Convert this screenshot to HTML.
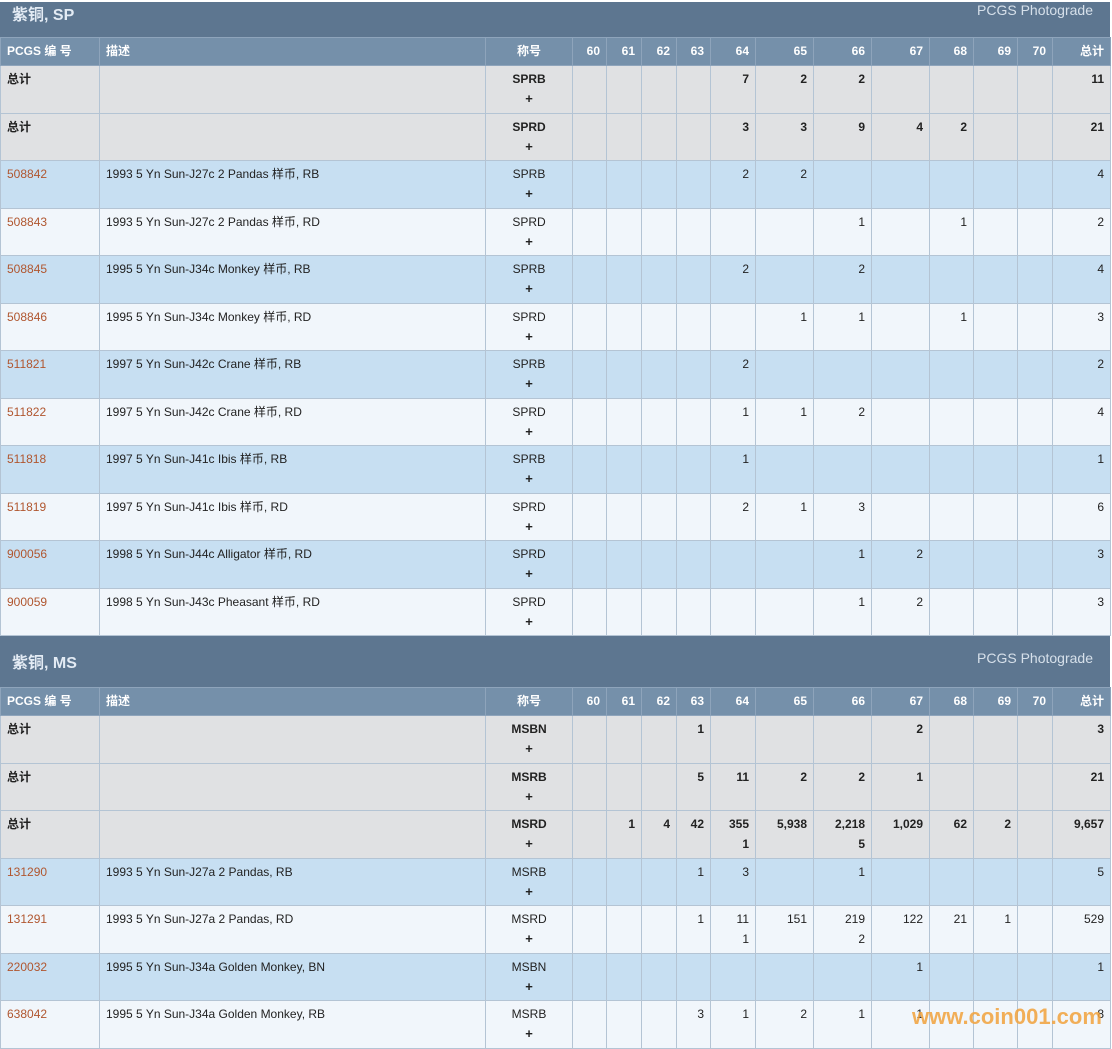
<!DOCTYPE html><html><head><meta charset="utf-8"><style>
body{margin:0;background:#fff;font-family:"Liberation Sans","Noto Sans CJK SC",sans-serif;font-size:12px;color:#222;width:1112px;height:1046px;overflow:hidden;position:relative}
.t{background:#5d7690;color:#e8eef5;position:relative;width:1110px}
.t b{position:absolute;left:12px;font-size:16px;color:#e3ebf4}
.t span{position:absolute;right:17px;font-size:14px;color:#d6e0ea}
table{border-collapse:collapse;table-layout:fixed;width:1111px}
td{border:1px solid #b4c4d4;vertical-align:top;padding:3px 6px 0 6px;line-height:20px;text-align:right;overflow:hidden;white-space:nowrap}
td:nth-child(1),td:nth-child(2){text-align:left}
td:nth-child(3){text-align:center}
td i{font-style:normal;font-weight:bold;font-size:13px}
tr{height:47.5px}
tr.h{height:28px;background:#7590aa;color:#fff;font-weight:bold}
tr.h td{padding-top:3px;line-height:20px;border-color:#8ea4bb}
tr.s{background:#e0e1e3;font-weight:bold}
tr.b{background:#c7dff2}
tr.w{background:#f1f6fb}
td a{color:#b0562f;text-decoration:none}
.wm{position:absolute;left:912px;top:1004px;font-size:22px;font-weight:bold;color:#f2a23c;opacity:.85}
</style></head><body>
<div style="height:2px"></div>
<div class="t" style="height:35px"><b style="top:-1px">紫铜, SP</b><span style="top:0px">PCGS Photograde</span></div>
<table><colgroup><col style="width:99px"><col style="width:386px"><col style="width:87px"><col style="width:34px"><col style="width:35px"><col style="width:35px"><col style="width:34px"><col style="width:45px"><col style="width:58px"><col style="width:58px"><col style="width:58px"><col style="width:44px"><col style="width:44px"><col style="width:35px"><col style="width:58px"></colgroup>
<tr class="h"><td>PCGS 编 号</td><td>描述</td><td>称号</td><td>60</td><td>61</td><td>62</td><td>63</td><td>64</td><td>65</td><td>66</td><td>67</td><td>68</td><td>69</td><td>70</td><td>总计</td></tr>
<tr class="s"><td>总计</td><td></td><td>SPRB<br><i>+</i></td><td></td><td></td><td></td><td></td><td>7</td><td>2</td><td>2</td><td></td><td></td><td></td><td></td><td>11</td></tr>
<tr class="s"><td>总计</td><td></td><td>SPRD<br><i>+</i></td><td></td><td></td><td></td><td></td><td>3</td><td>3</td><td>9</td><td>4</td><td>2</td><td></td><td></td><td>21</td></tr>
<tr class="b"><td><a>508842</a></td><td>1993 5 Yn Sun-J27c 2 Pandas 样币, RB</td><td>SPRB<br><i>+</i></td><td></td><td></td><td></td><td></td><td>2</td><td>2</td><td></td><td></td><td></td><td></td><td></td><td>4</td></tr>
<tr class="w"><td><a>508843</a></td><td>1993 5 Yn Sun-J27c 2 Pandas 样币, RD</td><td>SPRD<br><i>+</i></td><td></td><td></td><td></td><td></td><td></td><td></td><td>1</td><td></td><td>1</td><td></td><td></td><td>2</td></tr>
<tr class="b"><td><a>508845</a></td><td>1995 5 Yn Sun-J34c Monkey 样币, RB</td><td>SPRB<br><i>+</i></td><td></td><td></td><td></td><td></td><td>2</td><td></td><td>2</td><td></td><td></td><td></td><td></td><td>4</td></tr>
<tr class="w"><td><a>508846</a></td><td>1995 5 Yn Sun-J34c Monkey 样币, RD</td><td>SPRD<br><i>+</i></td><td></td><td></td><td></td><td></td><td></td><td>1</td><td>1</td><td></td><td>1</td><td></td><td></td><td>3</td></tr>
<tr class="b"><td><a>511821</a></td><td>1997 5 Yn Sun-J42c Crane 样币, RB</td><td>SPRB<br><i>+</i></td><td></td><td></td><td></td><td></td><td>2</td><td></td><td></td><td></td><td></td><td></td><td></td><td>2</td></tr>
<tr class="w"><td><a>511822</a></td><td>1997 5 Yn Sun-J42c Crane 样币, RD</td><td>SPRD<br><i>+</i></td><td></td><td></td><td></td><td></td><td>1</td><td>1</td><td>2</td><td></td><td></td><td></td><td></td><td>4</td></tr>
<tr class="b"><td><a>511818</a></td><td>1997 5 Yn Sun-J41c Ibis 样币, RB</td><td>SPRB<br><i>+</i></td><td></td><td></td><td></td><td></td><td>1</td><td></td><td></td><td></td><td></td><td></td><td></td><td>1</td></tr>
<tr class="w"><td><a>511819</a></td><td>1997 5 Yn Sun-J41c Ibis 样币, RD</td><td>SPRD<br><i>+</i></td><td></td><td></td><td></td><td></td><td>2</td><td>1</td><td>3</td><td></td><td></td><td></td><td></td><td>6</td></tr>
<tr class="b"><td><a>900056</a></td><td>1998 5 Yn Sun-J44c Alligator 样币, RD</td><td>SPRD<br><i>+</i></td><td></td><td></td><td></td><td></td><td></td><td></td><td>1</td><td>2</td><td></td><td></td><td></td><td>3</td></tr>
<tr class="w"><td><a>900059</a></td><td>1998 5 Yn Sun-J43c Pheasant 样币, RD</td><td>SPRD<br><i>+</i></td><td></td><td></td><td></td><td></td><td></td><td></td><td>1</td><td>2</td><td></td><td></td><td></td><td>3</td></tr>
</table>
<div class="t" style="height:51px"><b style="top:13px">紫铜, MS</b><span style="top:14px">PCGS Photograde</span></div>
<table><colgroup><col style="width:99px"><col style="width:386px"><col style="width:87px"><col style="width:34px"><col style="width:35px"><col style="width:35px"><col style="width:34px"><col style="width:45px"><col style="width:58px"><col style="width:58px"><col style="width:58px"><col style="width:44px"><col style="width:44px"><col style="width:35px"><col style="width:58px"></colgroup>
<tr class="h"><td>PCGS 编 号</td><td>描述</td><td>称号</td><td>60</td><td>61</td><td>62</td><td>63</td><td>64</td><td>65</td><td>66</td><td>67</td><td>68</td><td>69</td><td>70</td><td>总计</td></tr>
<tr class="s"><td>总计</td><td></td><td>MSBN<br><i>+</i></td><td></td><td></td><td></td><td>1</td><td></td><td></td><td></td><td>2</td><td></td><td></td><td></td><td>3</td></tr>
<tr class="s"><td>总计</td><td></td><td>MSRB<br><i>+</i></td><td></td><td></td><td></td><td>5</td><td>11</td><td>2</td><td>2</td><td>1</td><td></td><td></td><td></td><td>21</td></tr>
<tr class="s"><td>总计</td><td></td><td>MSRD<br><i>+</i></td><td></td><td>1</td><td>4</td><td>42</td><td>355<br>1</td><td>5,938</td><td>2,218<br>5</td><td>1,029</td><td>62</td><td>2</td><td></td><td>9,657</td></tr>
<tr class="b"><td><a>131290</a></td><td>1993 5 Yn Sun-J27a 2 Pandas, RB</td><td>MSRB<br><i>+</i></td><td></td><td></td><td></td><td>1</td><td>3</td><td></td><td>1</td><td></td><td></td><td></td><td></td><td>5</td></tr>
<tr class="w"><td><a>131291</a></td><td>1993 5 Yn Sun-J27a 2 Pandas, RD</td><td>MSRD<br><i>+</i></td><td></td><td></td><td></td><td>1</td><td>11<br>1</td><td>151</td><td>219<br>2</td><td>122</td><td>21</td><td>1</td><td></td><td>529</td></tr>
<tr class="b"><td><a>220032</a></td><td>1995 5 Yn Sun-J34a Golden Monkey, BN</td><td>MSBN<br><i>+</i></td><td></td><td></td><td></td><td></td><td></td><td></td><td></td><td>1</td><td></td><td></td><td></td><td>1</td></tr>
<tr class="w"><td><a>638042</a></td><td>1995 5 Yn Sun-J34a Golden Monkey, RB</td><td>MSRB<br><i>+</i></td><td></td><td></td><td></td><td>3</td><td>1</td><td>2</td><td>1</td><td>1</td><td></td><td></td><td></td><td>8</td></tr>
</table>
<div class="wm">www.coin001.com</div>
</body></html>
